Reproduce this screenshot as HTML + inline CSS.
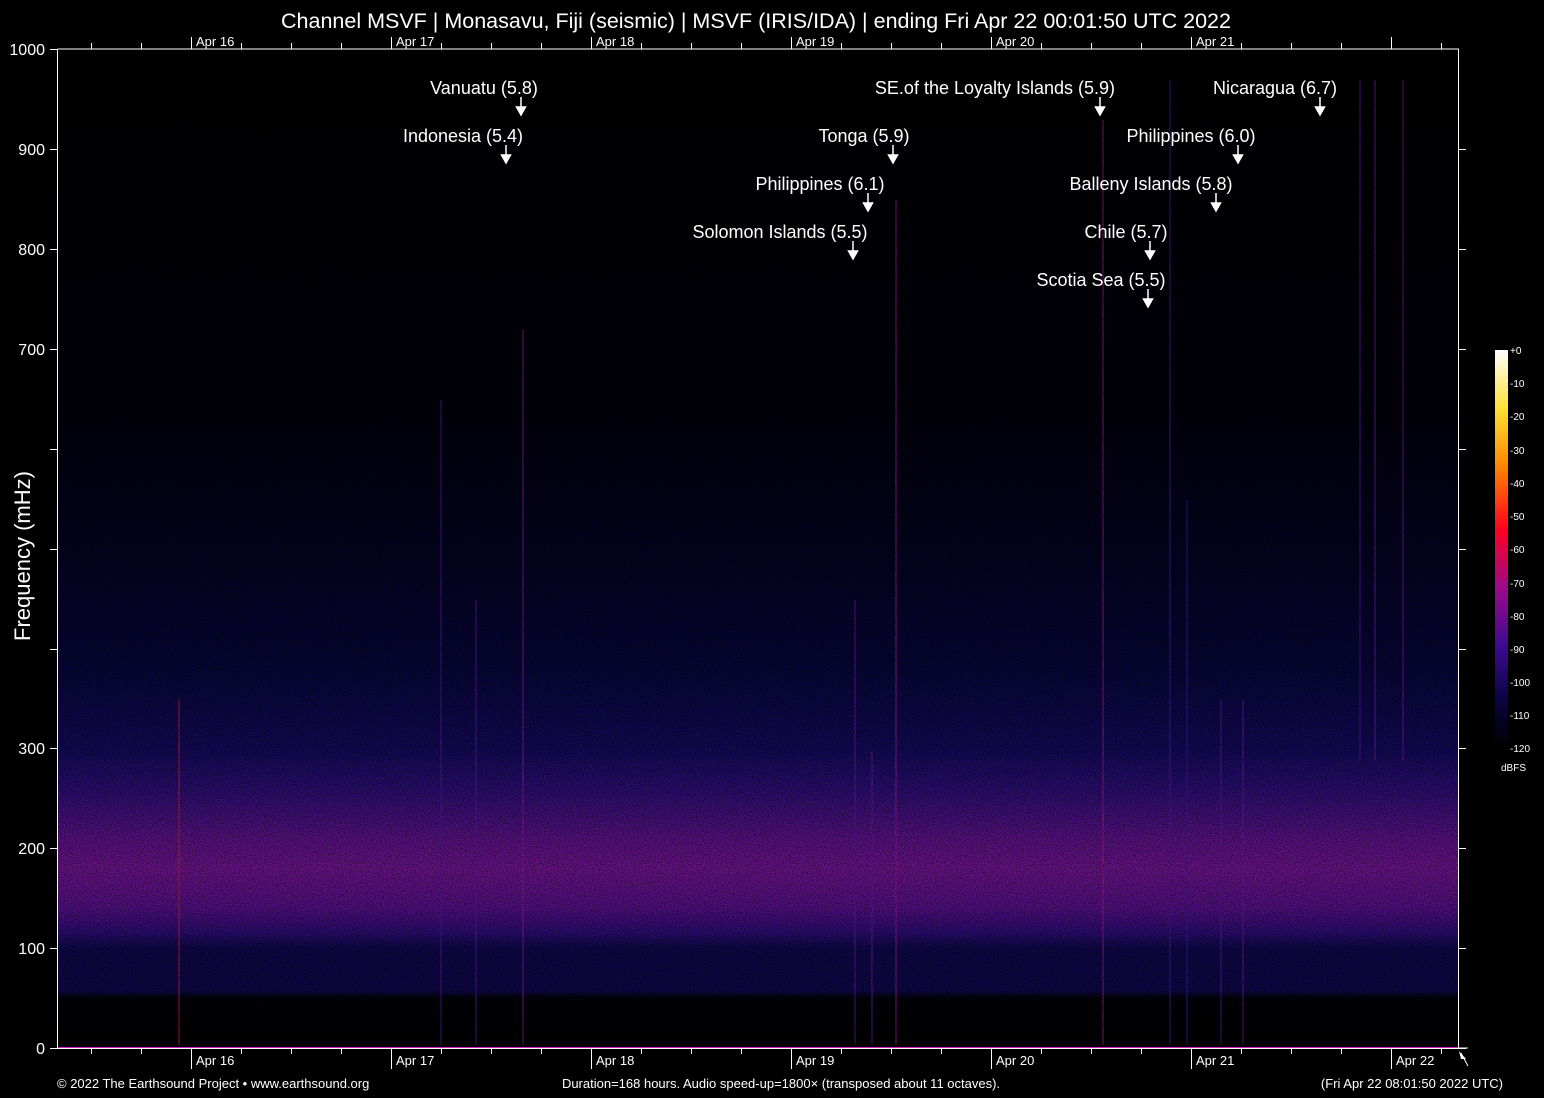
<!DOCTYPE html>
<html><head><meta charset="utf-8"><style>
html,body{margin:0;padding:0;background:#000;}
svg{display:block;font-family:"Liberation Sans",sans-serif;}
</style></head><body>
<svg width="1544" height="1098" viewBox="0 0 1544 1098" xmlns="http://www.w3.org/2000/svg">
<defs>
<linearGradient id="bg" x1="0" y1="49" x2="0" y2="1048" gradientUnits="userSpaceOnUse">
<stop offset="0" stop-color="#000000"/>
<stop offset="0.35" stop-color="#01010a"/>
<stop offset="0.5" stop-color="#040320"/>
<stop offset="0.62" stop-color="#080638"/>
<stop offset="0.7" stop-color="#120a58"/>
<stop offset="0.74" stop-color="#2a0e70"/>
<stop offset="0.79" stop-color="#581282"/>
<stop offset="0.82" stop-color="#6a1488"/>
<stop offset="0.86" stop-color="#521082"/>
<stop offset="0.885" stop-color="#2a0c70"/>
<stop offset="0.9" stop-color="#0e0848"/>
<stop offset="0.943" stop-color="#0e0848"/>
<stop offset="0.95" stop-color="#020208"/>
<stop offset="1" stop-color="#000000"/>
</linearGradient>
<linearGradient id="cb" x1="0" y1="1" x2="0" y2="0">
<stop offset="0" stop-color="#000000"/>
<stop offset="0.12" stop-color="#0a0440"/>
<stop offset="0.25" stop-color="#3a0a90"/>
<stop offset="0.4" stop-color="#9a0a8a"/>
<stop offset="0.55" stop-color="#ff0020"/>
<stop offset="0.7" stop-color="#ff8000"/>
<stop offset="0.85" stop-color="#ffe030"/>
<stop offset="1" stop-color="#ffffff"/>
</linearGradient>
<filter id="noise" x="0" y="0" width="100%" height="100%">
<feTurbulence type="fractalNoise" baseFrequency="0.9" numOctaves="1" seed="3"/>
<feColorMatrix values="0 0 0 0 0  0 0 0 0 0  0 0 0 0 0  0 0 0 -3 1.8"/>
</filter>
</defs>
<text x="756" y="28" fill="#fff" font-size="21.5" text-anchor="middle">Channel MSVF | Monasavu, Fiji (seismic) | MSVF (IRIS/IDA) | ending Fri Apr 22 00:01:50 UTC 2022</text>
<rect x="57" y="49" width="1401" height="999" fill="url(#bg)"/>
<g stroke-width="1.5" opacity="0.6">
<line x1="179" y1="700" x2="179" y2="1045" stroke="#c0203a"/>
<line x1="441" y1="400" x2="441" y2="1045" stroke="#4a1a9a"/>
<line x1="476" y1="600" x2="476" y2="1045" stroke="#5a1a9a"/>
<line x1="523" y1="330" x2="523" y2="1045" stroke="#8a1a9a"/>
<line x1="855" y1="600" x2="855" y2="1045" stroke="#5a1a9a"/>
<line x1="872" y1="750" x2="872" y2="1045" stroke="#6a1a9a"/>
<line x1="896" y1="200" x2="896" y2="1045" stroke="#9a1a8a"/>
<line x1="1103" y1="120" x2="1103" y2="1045" stroke="#a01a80"/>
<line x1="1170" y1="80" x2="1170" y2="1045" stroke="#4a1a9a"/>
<line x1="1187" y1="500" x2="1187" y2="1045" stroke="#3a1a9a"/>
<line x1="1221" y1="700" x2="1221" y2="1045" stroke="#5a1a9a"/>
<line x1="1243" y1="700" x2="1243" y2="1045" stroke="#6a1a9a"/>
<line x1="1360" y1="80" x2="1360" y2="760" stroke="#4a1a9a"/>
<line x1="1375" y1="80" x2="1375" y2="760" stroke="#6a1a9a"/>
<line x1="1403" y1="80" x2="1403" y2="760" stroke="#6a1a9a"/>
</g>
<rect x="57" y="49" width="1401" height="999" filter="url(#noise)" opacity="0.6"/>
<line x1="57" y1="1048" x2="1458" y2="1048" stroke="#d020c0" stroke-width="2"/>
<g stroke="#fff" stroke-width="1" fill="none">
<path d="M57.5 49V1048.5H1458.5V49H57.5"/>
<path d="M50 49.5H57M50 149.5H57M50 249.5H57M50 349.5H57M50 449.5H57M50 549.5H57M50 649.5H57M50 748.5H57M50 848.5H57M50 948.5H57M50 1048.5H57"/>
<path d="M1458 149.5H1466M1458 249.5H1466M1458 349.5H1466M1458 449.5H1466M1458 549.5H1466M1458 649.5H1466M1458 748.5H1466M1458 848.5H1466M1458 948.5H1466M1458 1048.5H1466"/>
<path d="M91.5 49V43M141.5 49V43M241.5 49V43M291.5 49V43M341.5 49V43M441.5 49V43M491.5 49V43M541.5 49V43M641.5 49V43M691.5 49V43M741.5 49V43M841.5 49V43M891.5 49V43M941.5 49V43M1041.5 49V43M1091.5 49V43M1141.5 49V43M1241.5 49V43M1291.5 49V43M1341.5 49V43M1441.5 49V43"/>
<path d="M191.5 49V37M391.5 49V37M591.5 49V37M791.5 49V37M991.5 49V37M1191.5 49V37M1391.5 49V37"/>
<path d="M91.5 1048V1054M141.5 1048V1054M241.5 1048V1054M291.5 1048V1054M341.5 1048V1054M441.5 1048V1054M491.5 1048V1054M541.5 1048V1054M641.5 1048V1054M691.5 1048V1054M741.5 1048V1054M841.5 1048V1054M891.5 1048V1054M941.5 1048V1054M1041.5 1048V1054M1091.5 1048V1054M1141.5 1048V1054M1241.5 1048V1054M1291.5 1048V1054M1341.5 1048V1054M1441.5 1048V1054M1458 1048H1468"/>
<path d="M191.5 1048V1069M391.5 1048V1069M591.5 1048V1069M791.5 1048V1069M991.5 1048V1069M1191.5 1048V1069M1391.5 1048V1069"/>
<path d="M1461 1053L1468 1066"/>
</g>
<path d="M1459 1051L1466 1059L1461 1059Z" fill="#fff"/>
<g fill="#fff" font-size="13">
<text x="196" y="46">Apr 16</text><text x="396" y="46">Apr 17</text><text x="596" y="46">Apr 18</text><text x="796" y="46">Apr 19</text><text x="996" y="46">Apr 20</text><text x="1196" y="46">Apr 21</text>
<text x="196" y="1065">Apr 16</text><text x="396" y="1065">Apr 17</text><text x="596" y="1065">Apr 18</text><text x="796" y="1065">Apr 19</text><text x="996" y="1065">Apr 20</text><text x="1196" y="1065">Apr 21</text><text x="1396" y="1065">Apr 22</text>
</g>
<g fill="#fff" font-size="16" text-anchor="end">
<text x="45" y="55">1000</text><text x="45" y="155">900</text><text x="45" y="255">800</text><text x="45" y="355">700</text><text x="45" y="754">300</text><text x="45" y="854">200</text><text x="45" y="954">100</text><text x="45" y="1054">0</text>
</g>
<text transform="translate(30,556) rotate(-90)" fill="#fff" font-size="22" text-anchor="middle">Frequency (mHz)</text>
<g fill="#fff" font-size="18" text-anchor="middle">
<text x="484" y="94">Vanuatu (5.8)</text>
<text x="463" y="142">Indonesia (5.4)</text>
<text x="864" y="142">Tonga (5.9)</text>
<text x="820" y="190">Philippines (6.1)</text>
<text x="780" y="238">Solomon Islands (5.5)</text>
<text x="995" y="94">SE.of the Loyalty Islands (5.9)</text>
<text x="1275" y="94">Nicaragua (6.7)</text>
<text x="1191" y="142">Philippines (6.0)</text>
<text x="1151" y="190">Balleny Islands (5.8)</text>
<text x="1126" y="238">Chile (5.7)</text>
<text x="1101" y="286">Scotia Sea (5.5)</text>
</g>
<g stroke="#fff" stroke-width="1.5" fill="#fff">
<path d="M521 97V108" /><path d="M516.5 107H525.5L521 115Z"/>
<path d="M506 145V156" /><path d="M501.5 155H510.5L506 163Z"/>
<path d="M893 145V156" /><path d="M888.5 155H897.5L893 163Z"/>
<path d="M868 193V204" /><path d="M863.5 203H872.5L868 211Z"/>
<path d="M853 241V252" /><path d="M848.5 251H857.5L853 259Z"/>
<path d="M1100 97V108" /><path d="M1095.5 107H1104.5L1100 115Z"/>
<path d="M1320 97V108" /><path d="M1315.5 107H1324.5L1320 115Z"/>
<path d="M1238 145V156" /><path d="M1233.5 155H1242.5L1238 163Z"/>
<path d="M1216 193V204" /><path d="M1211.5 203H1220.5L1216 211Z"/>
<path d="M1150 241V252" /><path d="M1145.5 251H1154.5L1150 259Z"/>
<path d="M1148 289V300" /><path d="M1143.5 299H1152.5L1148 307Z"/>
</g>
<rect x="1495" y="350" width="13" height="398" fill="url(#cb)"/>
<g fill="#fff" font-size="10">
<text x="1510" y="354">+0</text><text x="1510" y="387">-10</text><text x="1510" y="420">-20</text><text x="1510" y="454">-30</text><text x="1510" y="487">-40</text><text x="1510" y="520">-50</text><text x="1510" y="553">-60</text><text x="1510" y="587">-70</text><text x="1510" y="620">-80</text><text x="1510" y="653">-90</text><text x="1510" y="686">-100</text><text x="1510" y="719">-110</text><text x="1510" y="752">-120</text>
<text x="1501" y="771">dBFS</text>
</g>
<g fill="#fff" font-size="13">
<text x="57" y="1088">© 2022 The Earthsound Project • www.earthsound.org</text>
<text x="781" y="1088" text-anchor="middle">Duration=168 hours. Audio speed-up=1800× (transposed about 11 octaves).</text>
<text x="1503" y="1088" text-anchor="end">(Fri Apr 22 08:01:50 2022 UTC)</text>
</g>
</svg>
</body></html>
